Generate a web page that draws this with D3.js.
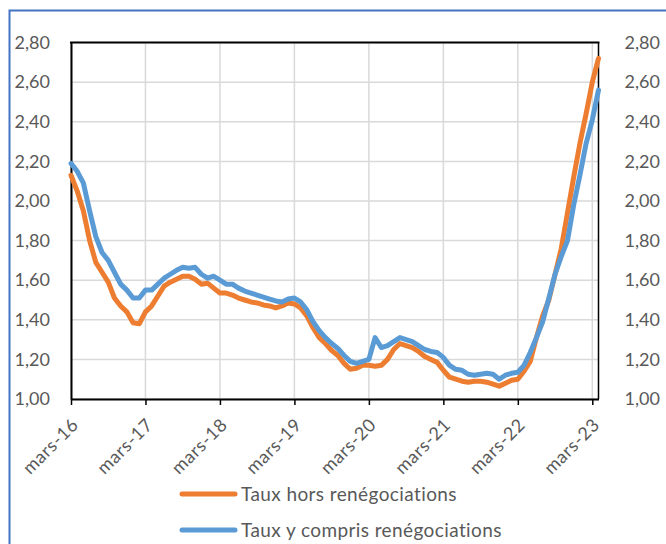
<!DOCTYPE html>
<html>
<head>
<meta charset="utf-8">
<script src="https://cdnjs.cloudflare.com/ajax/libs/d3/7.8.5/d3.min.js"></script>
<style>
  body { margin: 0; background: #fff; }
  svg text { font-family: Lato, "Open Sans", sans-serif; fill: #595959; }
</style>
</head>
<body>
<div id="chart"></div>
<script>
// monthly values, mars-16 .. avr-23
var tauxHors = [
  2.13, 2.05, 1.95, 1.80, 1.69, 1.64, 1.59, 1.51, 1.47, 1.44, 1.385, 1.38,
  1.44, 1.47, 1.52, 1.57, 1.59, 1.605, 1.62, 1.62, 1.605, 1.58, 1.585, 1.56,
  1.535, 1.535, 1.525, 1.51, 1.50, 1.49, 1.485, 1.475, 1.47, 1.46, 1.47, 1.485,
  1.48, 1.46, 1.42, 1.36, 1.31, 1.28, 1.245, 1.22, 1.18, 1.15, 1.155, 1.17,
  1.17, 1.165, 1.17, 1.20, 1.25, 1.28, 1.27, 1.26, 1.24, 1.215, 1.20, 1.185,
  1.145, 1.11, 1.10, 1.09, 1.085, 1.09, 1.09, 1.085, 1.075, 1.065, 1.08, 1.095,
  1.10, 1.14, 1.19, 1.31, 1.42, 1.50, 1.63, 1.76, 1.94, 2.12, 2.29, 2.44,
  2.60, 2.72
];
var tauxYCompris = [
  2.19, 2.15, 2.09, 1.95, 1.82, 1.74, 1.70, 1.64, 1.58, 1.55, 1.51, 1.51,
  1.55, 1.55, 1.58, 1.61, 1.63, 1.65, 1.665, 1.66, 1.665, 1.63, 1.61, 1.62,
  1.60, 1.58, 1.58, 1.56, 1.545, 1.535, 1.525, 1.515, 1.505, 1.495, 1.49, 1.505,
  1.51, 1.49, 1.45, 1.39, 1.345, 1.31, 1.28, 1.255, 1.22, 1.19, 1.18, 1.19,
  1.20, 1.31, 1.26, 1.27, 1.29, 1.31, 1.30, 1.29, 1.27, 1.25, 1.24, 1.235,
  1.21, 1.17, 1.15, 1.145, 1.125, 1.12, 1.125, 1.13, 1.125, 1.10, 1.12, 1.13,
  1.135, 1.17, 1.235, 1.31, 1.39, 1.51, 1.63, 1.72, 1.80, 1.98, 2.13, 2.29,
  2.41, 2.56
];
var tickLabels = ['mars-16', 'mars-17', 'mars-18', 'mars-19', 'mars-20', 'mars-21', 'mars-22', 'mars-23'];
var yTicks = [1.0, 1.2, 1.4, 1.6, 1.8, 2.0, 2.2, 2.4, 2.6, 2.8];
var seriesNames = ['Taux hors renégociations', 'Taux y compris renégociations'];

//configuration variables
var config = {};
config.width  = 666;
config.height = 544;
config.left   = 71;
config.right  = 598.5;
config.top    = 42.6;
config.bottom = 399;
config.fontSize = 18;
config.legendFontSize = 19;

var colors = ['#ED7D31', '#5B9BD5'];

var svg = d3.select('#chart')
    .append('svg')
    .attr('width', config.width)
    .attr('height', config.height);

var x = d3.scaleLinear()
    .domain([0, tauxHors.length - 1])
    .range([config.left, config.right]);

var y = d3.scaleLinear()
    .domain([1, 2.8])
    .range([config.bottom, config.top]);

var fmt = function(d){ return d3.format('.2f')(d).replace('.', ','); };

//outer frame (only top and left visible)
svg.append('path')
    .attr('d', 'M9.5,' + config.height + 'V10.5H' + config.width)
    .attr('fill', 'none')
    .attr('stroke', '#4472C4')
    .attr('stroke-width', 2);

//gridlines
var tickIdx = tickLabels.map(function(d, i){ return i * 12; });

svg.append('g')
    .selectAll('line')
    .data(yTicks)
    .enter().append('line')
    .attr('x1', config.left).attr('x2', config.right)
    .attr('y1', function(d){ return y(d); })
    .attr('y2', function(d){ return y(d); })
    .attr('stroke', '#D9D9D9')
    .attr('stroke-width', 1.5);

svg.append('g')
    .selectAll('line')
    .data(tickIdx)
    .enter().append('line')
    .attr('x1', function(d){ return x(d); })
    .attr('x2', function(d){ return x(d); })
    .attr('y1', config.top).attr('y2', config.bottom)
    .attr('stroke', '#D9D9D9')
    .attr('stroke-width', 1.5);

//plot frame
svg.append('line')
    .attr('x1', config.right).attr('x2', config.right)
    .attr('y1', config.top).attr('y2', config.bottom)
    .attr('stroke', '#000').attr('stroke-width', 1.5);
svg.append('line')
    .attr('x1', config.left - 1).attr('x2', config.right + 1)
    .attr('y1', config.top).attr('y2', config.top)
    .attr('stroke', '#000').attr('stroke-width', 2);

//x axis
var xAxis = svg.append('g')
    .attr('transform', 'translate(0,' + config.bottom + ')')
    .call(d3.axisBottom(x)
        .tickValues(tickIdx)
        .tickSize(6)
        .tickSizeOuter(0)
        .tickFormat(function(d){ return tickLabels[d / 12]; }));
xAxis.select('.domain').attr('stroke', '#000').attr('stroke-width', 2);
xAxis.selectAll('.tick line').attr('stroke', '#000').attr('stroke-width', 1.5);

//y axes
var yLeft = svg.append('g')
    .attr('transform', 'translate(' + config.left + ',0)')
    .call(d3.axisLeft(y).tickValues(yTicks).tickSize(0).tickPadding(21).tickFormat(fmt));
yLeft.select('.domain').attr('stroke', '#000').attr('stroke-width', 2);

var yRight = svg.append('g')
    .attr('transform', 'translate(' + config.right + ',0)')
    .call(d3.axisRight(y).tickValues(yTicks).tickSize(0).tickPadding(26).tickFormat(fmt));
yRight.select('.domain').remove();

svg.selectAll('.tick text')
    .attr('fill', '#595959')
    .style('font-size', config.fontSize + 'px')
    .style('font-family', 'Lato, sans-serif');

xAxis.selectAll('.tick text')
    .attr('text-anchor', 'end')
    .style('letter-spacing', '0.6px')
    .attr('x', 0).attr('y', 0).attr('dy', 0)
    .attr('transform', 'translate(8,27) rotate(-45)');

//lines
var line = d3.line()
    .x(function(d, i){ return x(i); })
    .y(function(d){ return y(d); });

svg.append('g')
    .selectAll('path')
    .data([tauxHors, tauxYCompris])
    .enter().append('path')
    .attr('d', line)
    .attr('fill', 'none')
    .attr('stroke', function(d, i){ return colors[i]; })
    .attr('stroke-width', 5)
    .attr('stroke-linejoin', 'round')
    .attr('stroke-linecap', 'round');

//legend
var legend = svg.append('g')
    .selectAll('g')
    .data(seriesNames)
    .enter().append('g')
    .attr('transform', function(d, i){ return 'translate(182,' + (494 + i * 36) + ')'; });

legend.append('line')
    .attr('x1', 0).attr('x2', 53)
    .attr('stroke', function(d, i){ return colors[i]; })
    .attr('stroke-width', 5)
    .attr('stroke-linecap', 'round');

legend.append('text')
    .attr('x', 59)
    .attr('dy', '0.35em')
    .style('font-size', config.legendFontSize + 'px')
    .style('letter-spacing', '0.4px')
    .text(function(d){ return d; });
</script>
</body>
</html>
